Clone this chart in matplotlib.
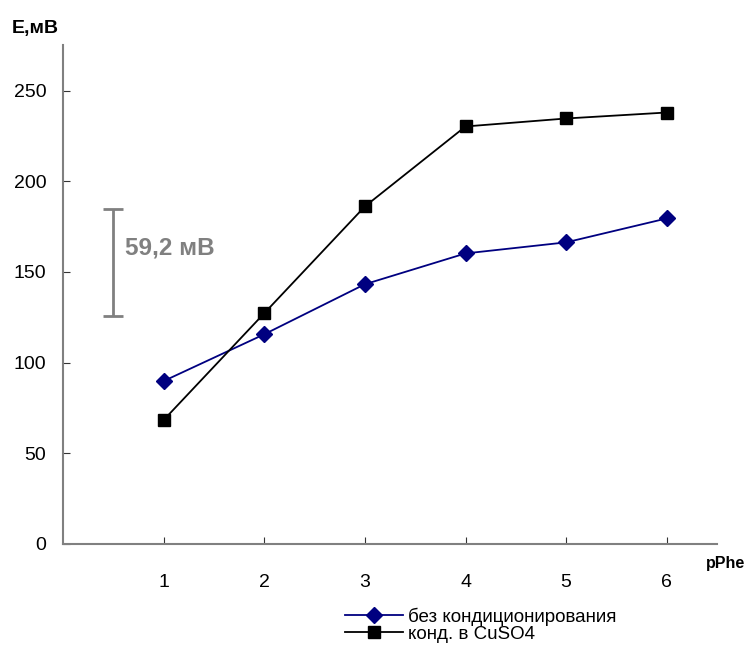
import matplotlib.pyplot as plt

plt.rcParams['font.family'] = ['Liberation Sans', 'DejaVu Sans']

# pPhe values and electrode potentials, mV
pphe = [1, 2, 3, 4, 5, 6]
e_plain = [89.8, 115.6, 143.2, 160.2, 166.3, 179.5]
e_cuso4 = [68.3, 127.2, 186.1, 230.2, 234.6, 237.9]
labels = ['без кондиционирования', 'конд. в CuSO4']

# slope marker
slope_x = 0.5
slope_lo = 125.5
slope_hi = 184.7
slope_text = '59,2 мВ'

fig = plt.figure(figsize=(7.47, 6.46), dpi=100)
ax = fig.add_axes([0.0843, 0.158, 0.8757, 0.772])

ax.plot(pphe, e_plain, color='#000080', lw=1.3, marker='D', ms=8,
        label=labels[0])
ax.plot(pphe, e_cuso4, color='black', lw=1.3, marker='s', ms=8,
        label=labels[1])

ax.set_xlim(0, 6.5)
ax.set_ylim(0, 275)
ax.set_xticks(pphe)
ax.set_yticks([0, 50, 100, 150, 200, 250])

for s in ['top', 'right']:
    ax.spines[s].set_visible(False)
for s in ['left', 'bottom']:
    ax.spines[s].set_color('#808080')
    ax.spines[s].set_linewidth(1.5)

ax.tick_params(axis='x', direction='in', length=5, color='#333333',
               labelsize=14, pad=22)
ax.tick_params(axis='y', direction='in', length=5, color='#333333',
               labelsize=14, pad=12)

# vertical bar showing the Nernst slope
ax.errorbar([slope_x], [(slope_lo + slope_hi) / 2],
            yerr=[[(slope_hi - slope_lo) / 2]], color='#808080',
            lw=2, capsize=7, capthick=2)
ax.text(slope_x + 0.12, 163, slope_text, color='#808080', fontsize=17.5,
        fontweight='bold', va='center', ha='left')

fig.text(0.016, 0.956, 'E,мВ', fontsize=14, fontweight='bold',
         va='center', ha='left')
fig.text(0.945, 0.127, 'pPhe', fontsize=11.5, fontweight='bold',
         va='center', ha='left')

fig.legend(loc='upper left', bbox_to_anchor=(0.462, 0.060), frameon=False,
           fontsize=13.5, handlelength=3.1, handletextpad=0.25,
           labelspacing=0.0, borderpad=0, borderaxespad=0)

fig.savefig('out.png', dpi=100)
